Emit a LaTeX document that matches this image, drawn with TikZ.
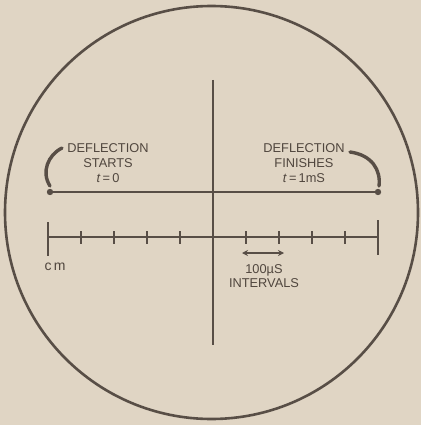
\documentclass[tikz,border=0pt]{standalone}
\usepackage{fontspec}
\setmainfont{Liberation Sans}
\usetikzlibrary{arrows.meta}
\definecolor{paper}{RGB}{224,213,196}
\definecolor{ink}{RGB}{88,78,70}
\definecolor{textink}{RGB}{80,70,62}
\begin{document}
\begin{tikzpicture}[x=1pt,y=-1pt,
  ink line/.style={draw=ink,line width=1.8pt},
  label text/.style={text=textink,font=\fontsize{12.8}{14.8}\selectfont,inner sep=0pt,align=center},
  tickmark/.style={draw=ink,line width=1.6pt}]
\fill[paper] (0,0) rectangle (421,425);
\useasboundingbox (0,0) rectangle (421,425);
% screen circle
\draw[ink,line width=2.6pt] (211.5,212.5) circle (206.5);
% axes
\coordinate (vt) at (213,80);
\coordinate (vb) at (213,345);
\draw[ink line] (vt) -- (vb);
% deflection line
\coordinate (ds) at (50,192);
\coordinate (df) at (378,192);
\draw[ink line,line width=1.6pt] (ds) -- (df);
\fill[ink] (ds) circle (3.2);
\fill[ink] (df) circle (3.2);
% arcs
\draw[ink,line width=3.4pt,line cap=round] (50,186) .. controls (41,172) and (48,155) .. (62,148);
\draw[ink,line width=3.4pt,line cap=round] (350,152) .. controls (372,155) and (381,170) .. (379,186);
% scale
\coordinate (sl) at (48,237);
\coordinate (sr) at (378,237);
\draw[ink line,line width=1.6pt] (sl) -- (sr);
\draw[ink line] (48,222) -- (48,256);
\draw[ink line] (378,220) -- (378,255);
\foreach \i in {1,2,3,4,6,7,8,9} {
  \draw[tickmark] (48+33*\i,231) -- (48+33*\i,244);
}
% arrow
\coordinate (a1) at (242,253);
\coordinate (a2) at (284,253);
\draw[ink,line width=1.4pt,{Stealth[length=6pt,width=6pt]}-{Stealth[length=6pt,width=6pt]}] (a1) -- (a2);
% labels
\node[label text] (ls) at (108,163) {DEFLECTION\\STARTS\\\textit{t}\,=\,0};
\node[label text] (rf) at (304,163) {DEFLECTION\\FINISHES\\\textit{t}\,=\,1mS};
\node[label text,font=\fontsize{14}{16}\selectfont] (cm) at (55,267) {c\,m};
\node[label text] (iv) at (264,276) {100µS\\INTERVALS};
\end{tikzpicture}
\end{document}
